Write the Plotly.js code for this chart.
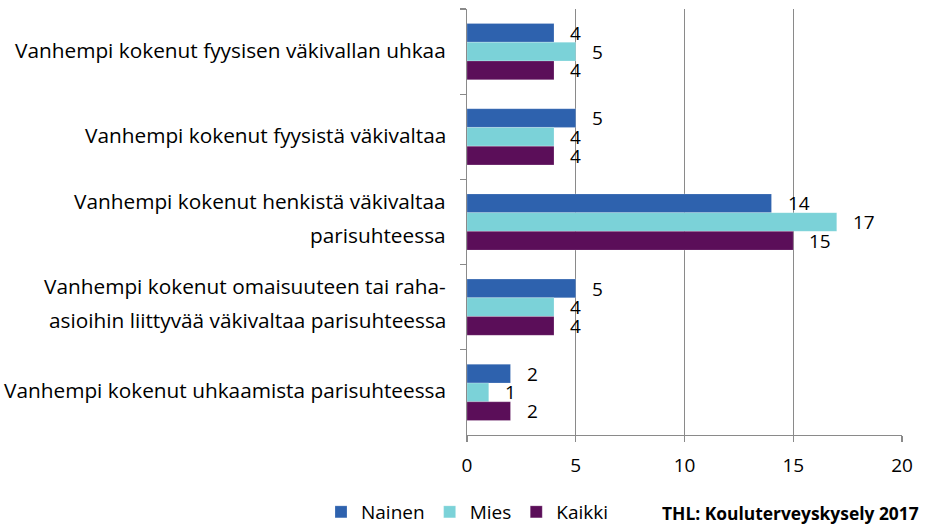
<!DOCTYPE html>
<html>
<head>
<meta charset="utf-8">
<script src="https://cdn.plot.ly/plotly-3.0.1.min.js"></script>
<style>html,body{margin:0;padding:0;background:#fff;}#chart{width:934px;height:526px;}</style>
</head>
<body>
<div id="chart"></div>
<script>
const categories = [
  "Vanhempi kokenut fyysisen väkivallan uhkaa",
  "Vanhempi kokenut fyysistä väkivaltaa",
  "Vanhempi kokenut henkistä väkivaltaa\nparisuhteessa",
  "Vanhempi kokenut omaisuuteen tai raha-\nasioihin liittyvää väkivaltaa parisuhteessa",
  "Vanhempi kokenut uhkaamista parisuhteessa"
];
const seriesNames = ["Nainen", "Mies", "Kaikki"];
const nainen = [4, 5, 14, 5, 2];
const mies = [5, 4, 17, 4, 1];
const kaikki = [4, 4, 15, 4, 2];
const xTicks = [0, 5, 10, 15, 20];
const sourceText = "THL: Kouluterveyskysely 2017";

const colors = ["#2E62AE", "#7BD2D8", "#5B0E59"];
const FONT = "'Open Sans', 'DejaVu Sans', sans-serif";
const series = [nainen, mies, kaikki];

const traces = series.map((vals, i) => ({
  type: "bar",
  orientation: "h",
  name: seriesNames[i],
  x: vals,
  y: categories,
  marker: {color: colors[i], line: {color: "rgba(255,255,255,0.35)", width: 0.6}},
  hoverinfo: "x+name"
}));

const annotations = [];
// category labels (centered multi-line)
categories.forEach(cat => {
  const lines = cat.split("\n");
  const n = lines.length;
  lines.forEach((ln, k) => {
    annotations.push({
      xref: "paper", yref: "y", x: 0, y: cat,
      xanchor: "right", yanchor: "middle", xshift: -19,
      yshift: ((n - 1) / 2 - k) * 34 + (n > 1 ? 4 : 2),
      text: ln, showarrow: false,
      font: {family: FONT, size: 20.8, color: "#000"}
    });
  });
});
// value labels
const barPx = 18.7;
series.forEach((vals, i) => {
  vals.forEach((v, j) => {
    annotations.push({
      xref: "x", yref: "y", x: v, y: categories[j],
      xanchor: "left", yanchor: "middle", xshift: 14,
      yshift: (1 - i) * barPx,
      text: String(v), showarrow: false,
      font: {family: FONT, size: 19, color: "#000"}
    });
  });
});
annotations.push({
  xref: "paper", yref: "paper", x: (921 - 466) / 436, y: (435 - 513) / 425,
  xanchor: "right", yanchor: "middle",
  text: "<b>" + sourceText + "</b>", showarrow: false,
  font: {family: FONT, size: 17.4, color: "#000"}
});

const layout = {
  width: 934, height: 526,
  margin: {l: 467, r: 32, t: 9, b: 91},
  paper_bgcolor: "#fff", plot_bgcolor: "#fff",
  barmode: "group", bargap: 0.34, bargroupgap: 0,
  showlegend: true,
  legend: {
    orientation: "h", xref: "container", yref: "container",
    x: 467 / 934, y: 14 / 526, xanchor: "center", yanchor: "middle",
    font: {family: FONT, size: 19, color: "#000"},
    traceorder: "normal", itemwidth: 30
  },
  xaxis: {
    range: [0, 20], tickvals: xTicks, ticktext: xTicks.map(String),
    showgrid: true, gridcolor: "#8A8A8A", gridwidth: 1.3,
    showline: true, linecolor: "#8A8A8A", linewidth: 1.3,
    ticks: "outside", ticklen: 6, tickcolor: "#8A8A8A", tickwidth: 1.3,
    ticklabelstandoff: 7,
    zeroline: false,
    tickfont: {family: FONT, size: 19, color: "#000"}
  },
  yaxis: {
    type: "category", autorange: "reversed",
    showticklabels: false,
    showline: true, linecolor: "#8A8A8A", linewidth: 1.3,
    ticks: "outside", tickson: "boundaries", ticklen: 6, tickcolor: "#8A8A8A", tickwidth: 1.3,
    showgrid: false, zeroline: false
  },
  annotations: annotations,
  font: {family: FONT}
};

Plotly.newPlot("chart", traces, layout, {displayModeBar: false, staticPlot: true});
</script>
</body>
</html>
